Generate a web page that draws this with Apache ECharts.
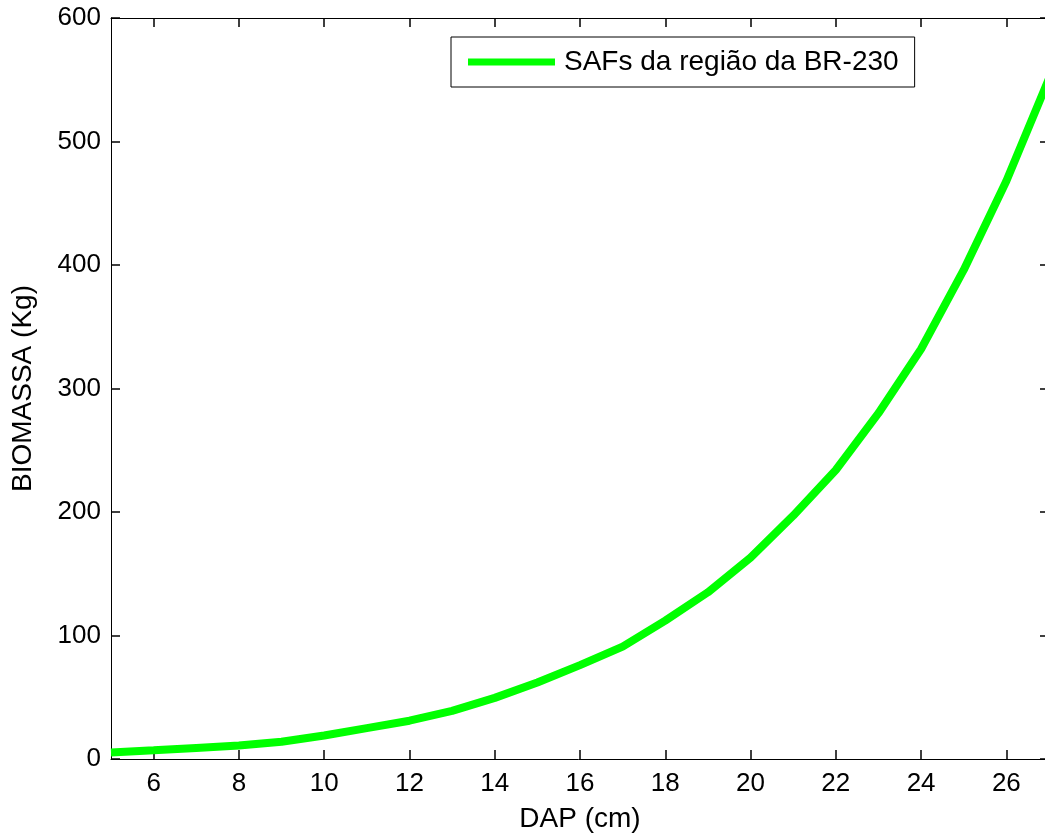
<!DOCTYPE html>
<html>
<head>
<meta charset="utf-8">
<script src="https://cdn.jsdelivr.net/npm/echarts@6/dist/echarts.min.js"></script>
<style>
  html, body { margin: 0; padding: 0; background: #fff; }
  #chart { width: 1045px; height: 835px; }
</style>
</head>
<body>
<div id="chart"></div>
<script>
// DAP (cm) e biomassa estimada (Kg)
var dap = [5, 6, 7, 8, 9, 10, 11, 12, 13, 14, 15, 16, 17, 18, 19, 20, 21, 22, 23, 24, 25, 26, 27];
var biomassa = [5.2, 7, 9, 11, 14, 19, 25, 31, 39, 49.5, 62, 76, 91, 112, 135, 163, 197, 234, 280, 332, 396, 468, 551];
var xTicks = [6, 8, 10, 12, 14, 16, 18, 20, 22, 24, 26];
var yTicks = [0, 100, 200, 300, 400, 500, 600];
var serieNome = 'SAFs da região da BR-230';

var fonte = "'Liberation Sans', Arial, sans-serif";

// eixos auxiliares para os ticks de cima e da direita (estilo matlab)
function eixoX(pos, labels) {
    return {
        type: 'value', position: pos, min: 5, max: 27,
        axisLine: { show: true, onZero: false, lineStyle: { color: '#000', width: 1 } },
        axisTick: { show: true, inside: true, length: 9, customValues: xTicks, lineStyle: { color: '#000', width: 1.5 } },
        axisLabel: { show: true, customValues: xTicks, color: labels ? '#000' : 'rgba(0,0,0,0)', fontSize: 26, fontFamily: fonte, margin: 12 },
        splitLine: { show: false }
    };
}
function eixoY(pos, labels) {
    return {
        type: 'value', position: pos, min: 0, max: 600,
        axisLine: { show: true, lineStyle: { color: '#000', width: 1 } },
        axisTick: { show: true, inside: true, length: 9, customValues: yTicks, lineStyle: { color: '#000', width: 1.5 } },
        axisLabel: { show: labels, customValues: yTicks, color: '#000', fontSize: 26, fontFamily: fonte, margin: 10 },
        splitLine: { show: false }
    };
}

var chart = echarts.init(document.getElementById('chart'));

var xBaixo = eixoX('bottom', true);
xBaixo.name = 'DAP (cm)';
xBaixo.nameLocation = 'middle';
xBaixo.nameGap = 46;
xBaixo.nameTextStyle = { color: '#000', fontSize: 28, fontFamily: fonte };

var yEsq = eixoY('left', true);
yEsq.name = 'BIOMASSA (Kg)';
yEsq.nameLocation = 'middle';
yEsq.nameGap = 74;
yEsq.nameTextStyle = { color: '#000', fontSize: 28, fontFamily: fonte };

chart.setOption({
    animation: false,
    backgroundColor: '#fff',
    grid: { left: 111, right: -4, top: 18, bottom: 76, outerBoundsMode: 'none' },
    legend: {
        data: [serieNome],
        left: 451,
        top: 37,
        icon: 'rect',
        itemWidth: 87,
        itemHeight: 7,
        padding: [11, 16, 11, 17],
        borderColor: '#000',
        borderWidth: 1,
        borderRadius: 0,
        textStyle: { color: '#000', fontSize: 28, fontFamily: fonte, padding: [0, 0, 0, 4] }
    },
    xAxis: [xBaixo, eixoX('top', false)],
    yAxis: [yEsq, eixoY('right', false)],
    series: [{
        name: serieNome,
        type: 'line',
        data: dap.map(function (d, i) { return [d, biomassa[i]]; }),
        showSymbol: false,
        smooth: false,
        color: '#00ff00',
        lineStyle: { color: '#00ff00', width: 8 }
    }]
});
</script>
</body>
</html>
